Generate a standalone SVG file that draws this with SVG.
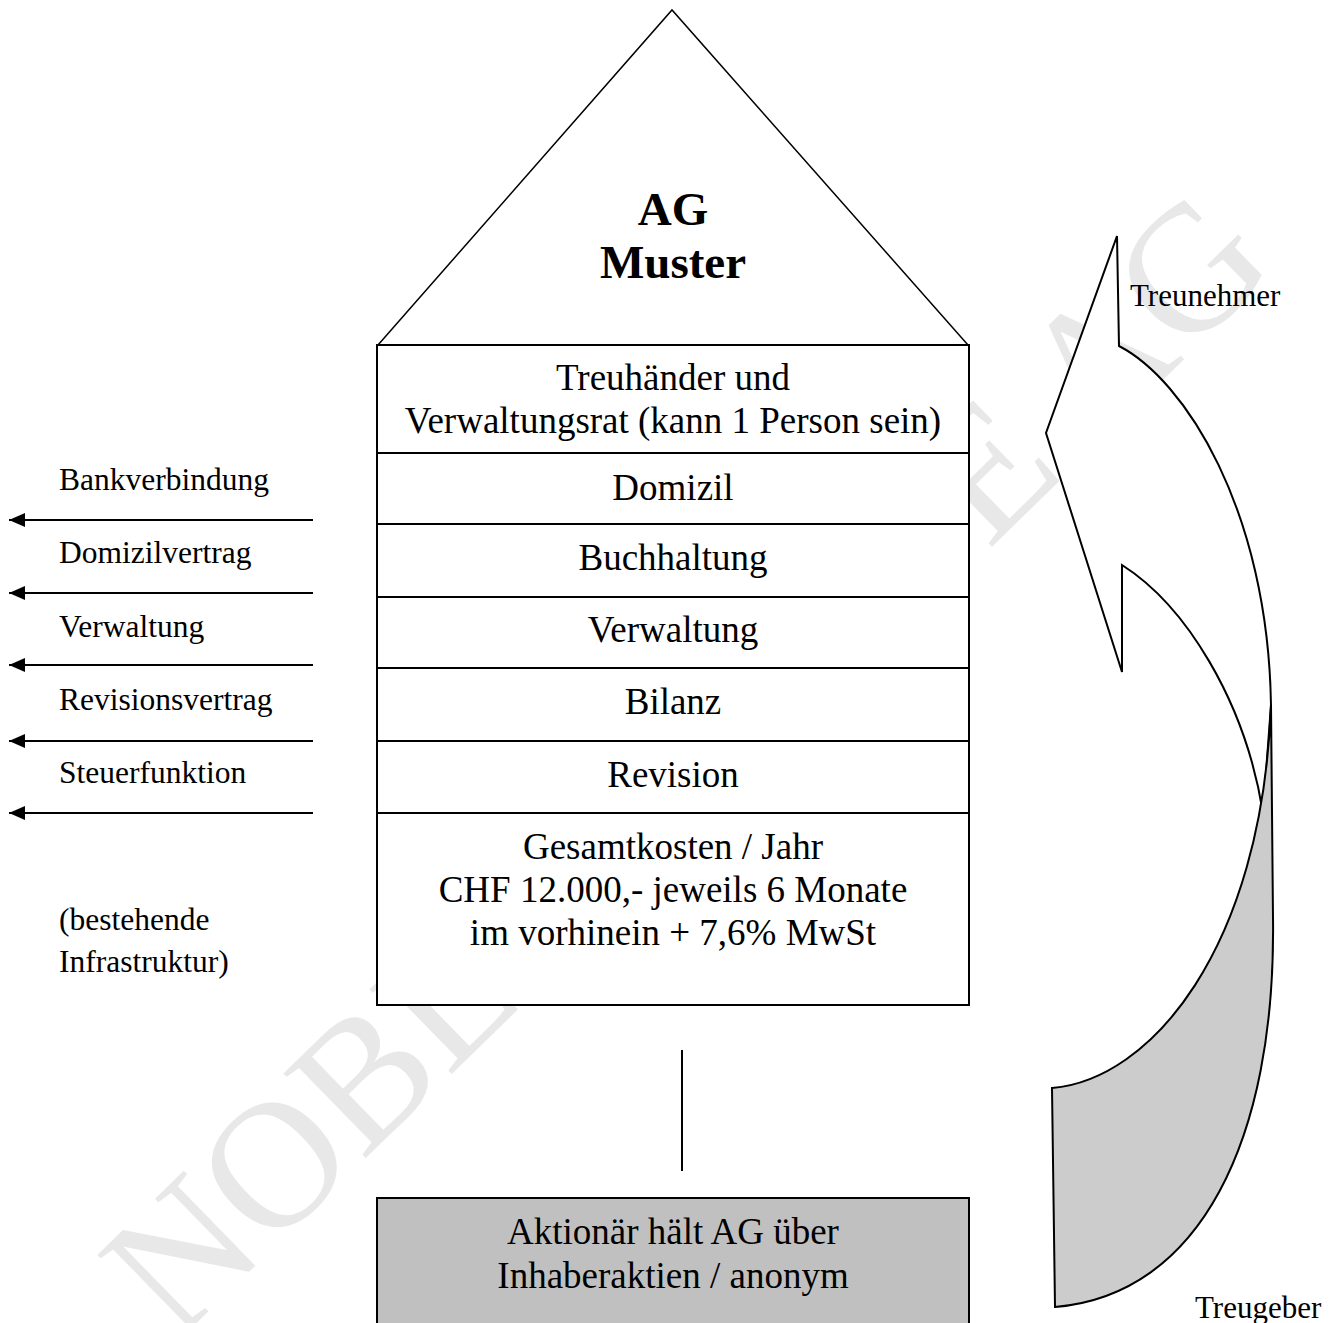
<svg xmlns="http://www.w3.org/2000/svg" width="1335" height="1323" viewBox="0 0 1335 1323">
<style>
  .t { font-family: "Liberation Serif", "Times New Roman", serif; fill: #000; }
  .box { font-size: 37px; text-anchor: middle; }
  .lbl { font-size: 31.5px; }
  .side { font-size: 31px; }
  .cell { fill: #fff; stroke: #000; stroke-width: 2; }
  .conn { stroke: #000; stroke-width: 2; fill: none; }
  .wm { font-family: "Liberation Serif", "Times New Roman", serif; font-size: 180px; fill: #e8e8e8; }
</style>
<defs>
  <marker id="ah" viewBox="0 0 16 14" refX="16" refY="7" markerWidth="16" markerHeight="14" markerUnits="userSpaceOnUse" orient="auto">
    <path d="M0,0 L16,7 L0,14 Z" fill="#000"/>
  </marker>
</defs>
<rect width="1335" height="1323" fill="#fff"/>
<text class="wm" transform="translate(176,1343) rotate(-44.3)">NOBLE HOUSE AG</text>

<g id="roof">
  <path d="M378,345 L672,10 L968,345" fill="none" stroke="#000" stroke-width="1.5"/>
  <text class="t" x="673" y="225" font-size="47" font-weight="bold" text-anchor="middle">AG</text>
  <text class="t" x="673" y="278" font-size="47" font-weight="bold" text-anchor="middle">Muster</text>
</g>

<g id="treuhaender">
  <rect class="cell" x="377" y="345" width="592" height="108"/>
  <text class="t box" x="673" y="390">Treuhänder und</text>
  <text class="t box" x="673" y="433">Verwaltungsrat (kann 1 Person sein)</text>
</g>
<g id="domizil">
  <rect class="cell" x="377" y="453" width="592" height="71"/>
  <text class="t box" x="673" y="500">Domizil</text>
</g>
<g id="buchhaltung">
  <rect class="cell" x="377" y="524" width="592" height="73"/>
  <text class="t box" x="673" y="570">Buchhaltung</text>
</g>
<g id="verwaltung">
  <rect class="cell" x="377" y="597" width="592" height="71"/>
  <text class="t box" x="673" y="642">Verwaltung</text>
</g>
<g id="bilanz">
  <rect class="cell" x="377" y="668" width="592" height="73"/>
  <text class="t box" x="673" y="714">Bilanz</text>
</g>
<g id="revision">
  <rect class="cell" x="377" y="741" width="592" height="72"/>
  <text class="t box" x="673" y="787">Revision</text>
</g>
<g id="kosten">
  <rect class="cell" x="377" y="813" width="592" height="192"/>
  <text class="t box" x="673" y="859">Gesamtkosten / Jahr</text>
  <text class="t box" x="673" y="902">CHF 12.000,- jeweils 6 Monate</text>
  <text class="t box" x="673" y="945">im vorhinein + 7,6% MwSt</text>
</g>
<g id="aktionaer">
  <rect x="377" y="1198" width="592" height="140" fill="#c0c0c0" stroke="#000" stroke-width="2"/>
  <text class="t box" x="673" y="1244">Aktionär hält AG über</text>
  <text class="t box" x="673" y="1288">Inhaberaktien / anonym</text>
</g>

<g id="labels">
  <text class="t lbl" x="59" y="490">Bankverbindung</text>
  <text class="t lbl" x="59" y="563">Domizilvertrag</text>
  <text class="t lbl" x="59" y="637">Verwaltung</text>
  <text class="t lbl" x="59" y="710">Revisionsvertrag</text>
  <text class="t lbl" x="59" y="783">Steuerfunktion</text>
  <text class="t lbl" x="59" y="930">(bestehende</text>
  <text class="t lbl" x="59" y="972">Infrastruktur)</text>
</g>

<g id="treu-arrow">
  <path d="M1117,236 L1046,433 L1122,672 L1122,565 C1185,605 1245,700 1263,813 L1271,705 C1268,510 1185,380 1119,346 Z" fill="#fff" stroke="#000" stroke-width="2" stroke-linejoin="miter"/>
  <path d="M1052,1088 C1150,1080 1262,950 1271,705 L1273,918 C1276,1140 1200,1295 1055,1307 Z" fill="#cccccc" stroke="#000" stroke-width="2"/>
  <text class="t side" x="1130" y="306">Treunehmer</text>
  <text class="t side" x="1195" y="1318">Treugeber</text>
</g>

<g id="connectors">
  <line class="conn" x1="313" y1="520" x2="9" y2="520" marker-end="url(#ah)"/>
  <line class="conn" x1="313" y1="593" x2="9" y2="593" marker-end="url(#ah)"/>
  <line class="conn" x1="313" y1="665" x2="9" y2="665" marker-end="url(#ah)"/>
  <line class="conn" x1="313" y1="741" x2="9" y2="741" marker-end="url(#ah)"/>
  <line class="conn" x1="313" y1="813" x2="9" y2="813" marker-end="url(#ah)"/>
  <line class="conn" x1="682" y1="1050" x2="682" y2="1171"/>
</g>
</svg>
